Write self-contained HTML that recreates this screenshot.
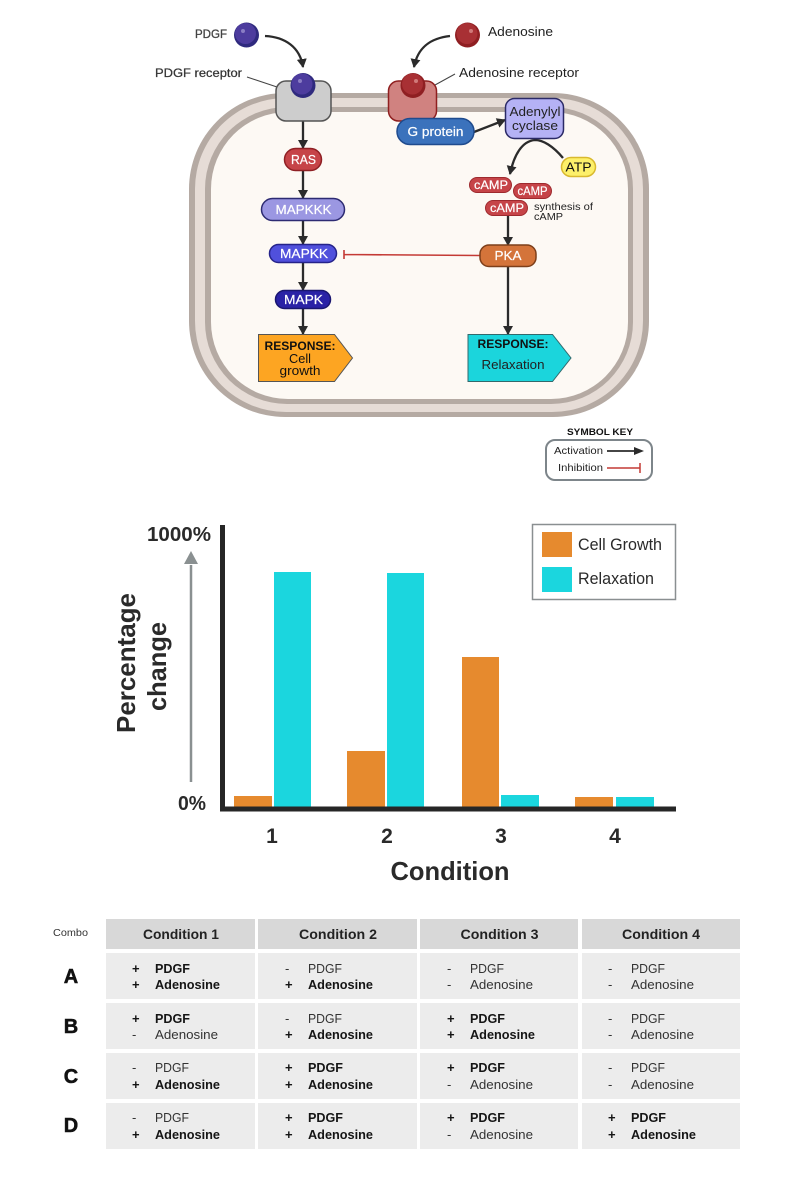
<!DOCTYPE html>
<html><head><meta charset="utf-8"><style>
html,body{margin:0;padding:0;background:#fff}
svg{display:block;filter:blur(.35px)}
text{font-family:"Liberation Sans",sans-serif}
.w{fill:#fff;stroke:#fff;stroke-width:.2;font-size:12.5px;text-anchor:middle}
.t text{font-size:13px;fill:#333}
.t .b{font-weight:bold;fill:#151515}
.h{font-size:13.5px;font-weight:bold;fill:#222;text-anchor:middle}
.r{font-size:20px;font-weight:bold;fill:#111;stroke:#111;stroke-width:.5;text-anchor:middle}
.c{fill:#ececec}
.g{fill:#d8d8d8}
</style></head><body>
<svg width="800" height="1200" viewBox="0 0 800 1200" xmlns="http://www.w3.org/2000/svg">
<defs>
<marker id="a" markerWidth="11" markerHeight="10" refX="8" refY="5" orient="auto" markerUnits="userSpaceOnUse"><path d="M0 0L9 5L0 10Z" fill="#2b2b2b"/></marker>
</defs>
<!-- cell -->
<rect x="189" y="93" width="460" height="324" rx="96" fill="#b5aaa3"/>
<rect x="195" y="98" width="448" height="314" rx="91" fill="#e6dcd6"/>
<rect x="205" y="107" width="428" height="297" rx="82" fill="#b5aaa3"/>
<rect x="211" y="112" width="417" height="287" rx="77" fill="#fdf9f4"/>
<!-- arrows -->
<g fill="none" stroke="#2b2b2b" stroke-width="2.300">
<path d="M265 36C285 37 300 47 303 67" marker-end="url(#a)"/>
<path d="M450 36C432 38 418 46 414 67" marker-end="url(#a)"/>
<path d="M303 121V148" marker-end="url(#a)"/>
<path d="M303 171V198" marker-end="url(#a)"/>
<path d="M303 221V244" marker-end="url(#a)"/>
<path d="M303 263V290" marker-end="url(#a)"/>
<path d="M303 309V334" marker-end="url(#a)"/>
<path d="M474 132L505 120" marker-end="url(#a)"/>
<path d="M563 158C553 146 543 140 535 140C522 141 514 155 510 174" marker-end="url(#a)"/>
<path d="M508 216V245" marker-end="url(#a)"/>
<path d="M508 267V334" marker-end="url(#a)"/>
</g>
<path d="M480 255.500L344 254.500M344 250V259" fill="none" stroke="#c43a35" stroke-width="1.600"/>
<path d="M247 77L277 87M435 85L455 74" stroke="#444" stroke-width="1" fill="none"/>
<!-- receptors -->
<rect x="276" y="81" width="55" height="40" rx="10" fill="#cdcdcd" stroke="#555" stroke-width="1.500"/>
<rect x="388.500" y="81" width="48" height="40" rx="10" fill="#d08280" stroke="#8f1f1f" stroke-width="1.500"/>
<!-- balls -->
<circle cx="246.500" cy="35" r="12.500" fill="#2f2a7e"/><circle cx="245.500" cy="33.500" r="10.500" fill="#4d3c9e"/><circle cx="243" cy="31" r="2" fill="#8a7dc4"/>
<circle cx="303" cy="85.500" r="12.500" fill="#2f2a7e"/><circle cx="302" cy="84" r="10.500" fill="#4d3c9e"/><circle cx="300" cy="81" r="2" fill="#8a7dc4"/>
<circle cx="467.500" cy="35" r="12.500" fill="#8f1f22"/><circle cx="467" cy="33.500" r="10.500" fill="#a83034"/><circle cx="471" cy="31" r="2" fill="#d07a7a"/>
<circle cx="413" cy="85.500" r="12.500" fill="#8f1f22"/><circle cx="412.500" cy="84" r="10.500" fill="#a83034"/><circle cx="416" cy="81" r="2" fill="#d07a7a"/>
<!-- nodes -->
<rect x="397" y="118.500" width="77" height="26" rx="13" fill="#3b72bc" stroke="#1f4b8e" stroke-width="1.500"/>
<text x="435.500" y="136" class="w" textLength="56" lengthAdjust="spacingAndGlyphs">G protein</text>
<rect x="505.500" y="98.500" width="58" height="40" rx="9" fill="#b5b2f5" stroke="#2b2a66" stroke-width="1.500"/>
<text x="535" y="116" font-size="12.500" fill="#222" text-anchor="middle" textLength="51" lengthAdjust="spacingAndGlyphs">Adenylyl</text>
<text x="535" y="130" font-size="12.500" fill="#222" text-anchor="middle" textLength="46" lengthAdjust="spacingAndGlyphs">cyclase</text>
<rect x="561.500" y="157.500" width="34" height="19" rx="9.500" fill="#fdf06a" stroke="#d9b92e" stroke-width="1.500"/>
<text x="578.500" y="171.500" font-size="13" fill="#111" text-anchor="middle" textLength="26" lengthAdjust="spacingAndGlyphs">ATP</text>
<rect x="469.500" y="177.500" width="42" height="15" rx="7.500" fill="#c64448" stroke="#9e2a2e"/>
<text x="491" y="189" class="w" style="font-size:12px" textLength="34" lengthAdjust="spacingAndGlyphs">cAMP</text>
<rect x="513.500" y="183.500" width="38" height="15" rx="7.500" fill="#c64448" stroke="#9e2a2e"/>
<text x="532.500" y="195" class="w" style="font-size:11.500px" textLength="30" lengthAdjust="spacingAndGlyphs">cAMP</text>
<rect x="485.500" y="200.500" width="42" height="15" rx="7.500" fill="#c64448" stroke="#9e2a2e"/>
<text x="507" y="212" class="w" style="font-size:12px" textLength="34" lengthAdjust="spacingAndGlyphs">cAMP</text>
<text x="534" y="210" font-size="10" fill="#222" textLength="59" lengthAdjust="spacingAndGlyphs">synthesis of</text>
<text x="534" y="220" font-size="10" fill="#222" textLength="29" lengthAdjust="spacingAndGlyphs">cAMP</text>
<rect x="480" y="245" width="56" height="21.500" rx="9" fill="#d4743a" stroke="#7d3f1a" stroke-width="1.500"/>
<text x="508" y="260" class="w" textLength="27" lengthAdjust="spacingAndGlyphs">PKA</text>
<rect x="284.500" y="148.500" width="37" height="22" rx="11" fill="#c64448" stroke="#8f2024" stroke-width="1.500"/>
<text x="303.500" y="164" class="w" textLength="25" lengthAdjust="spacingAndGlyphs">RAS</text>
<rect x="261.500" y="198.500" width="83" height="22" rx="11" fill="#9b97e2" stroke="#2d2b72" stroke-width="1.500"/>
<text x="303.500" y="214" class="w" textLength="56" lengthAdjust="spacingAndGlyphs">MAPKKK</text>
<rect x="269.500" y="244.500" width="67" height="18" rx="9" fill="#5050dc" stroke="#25238a" stroke-width="1.500"/>
<text x="304" y="258" class="w" textLength="48" lengthAdjust="spacingAndGlyphs">MAPKK</text>
<rect x="275.500" y="290.500" width="55" height="18" rx="9" fill="#2a22a6" stroke="#1a1670" stroke-width="1.500"/>
<text x="303.500" y="304" class="w" textLength="39" lengthAdjust="spacingAndGlyphs">MAPK</text>
<path d="M258.500 334.500H334.500L352.500 358L334.500 381.500H258.500Z" fill="#fda522" stroke="#555" stroke-width="1"/>
<text x="300" y="350" font-size="12" font-weight="bold" fill="#111" text-anchor="middle" textLength="71" lengthAdjust="spacingAndGlyphs">RESPONSE:</text>
<text x="300" y="363" font-size="12.500" fill="#111" text-anchor="middle" textLength="22" lengthAdjust="spacingAndGlyphs">Cell</text>
<text x="300" y="375" font-size="12.500" fill="#111" text-anchor="middle" textLength="41" lengthAdjust="spacingAndGlyphs">growth</text>
<path d="M468 334.500H552.500L571 358L552.500 381.500H468Z" fill="#1bd5dc" stroke="#33696c" stroke-width="1"/>
<text x="513" y="348" font-size="12" font-weight="bold" fill="#111" text-anchor="middle" textLength="71" lengthAdjust="spacingAndGlyphs">RESPONSE:</text>
<text x="513" y="369" font-size="12.500" fill="#222" text-anchor="middle" textLength="63" lengthAdjust="spacingAndGlyphs">Relaxation</text>
<!-- labels -->
<text x="195" y="38" font-size="12" fill="#444" stroke="#444" stroke-width=".3" textLength="32" lengthAdjust="spacingAndGlyphs">PDGF</text>
<text x="488" y="36" font-size="13" fill="#222" textLength="65" lengthAdjust="spacingAndGlyphs">Adenosine</text>
<text x="155" y="77" font-size="12" fill="#333" stroke="#333" stroke-width=".25" textLength="87" lengthAdjust="spacingAndGlyphs">PDGF receptor</text>
<text x="459" y="77" font-size="12.500" fill="#222" textLength="120" lengthAdjust="spacingAndGlyphs">Adenosine receptor</text>
<!-- key -->
<text x="567" y="435" font-size="9.500" font-weight="bold" fill="#111" textLength="66" lengthAdjust="spacingAndGlyphs">SYMBOL KEY</text>
<rect x="546" y="440" width="106" height="40" rx="9" fill="#fff" stroke="#7d858a" stroke-width="2"/>
<text x="554" y="454" font-size="10.500" fill="#222" textLength="49" lengthAdjust="spacingAndGlyphs">Activation</text>
<text x="558" y="471" font-size="10.500" fill="#222" textLength="45" lengthAdjust="spacingAndGlyphs">Inhibition</text>
<path d="M607 451H636" stroke="#2b2b2b" stroke-width="1.800"/><path d="M634 447L644 451L634 455Z" fill="#2b2b2b"/>
<path d="M607 468H640M640 463V473" stroke="#c43a35" stroke-width="1.500" fill="none"/>
<!-- chart -->
<g fill="#e68a2e">
<rect x="234" y="796" width="38" height="11"/><rect x="347" y="751" width="38" height="56"/><rect x="462" y="657" width="37" height="150"/><rect x="575" y="797" width="38" height="10"/>
<rect x="542" y="532" width="30" height="25"/>
</g>
<g fill="#1bd6de">
<rect x="274" y="572" width="37" height="235"/><rect x="387" y="573" width="37" height="234"/><rect x="501" y="795" width="38" height="12"/><rect x="616" y="797" width="38" height="10"/>
<rect x="542" y="567" width="30" height="25"/>
</g>
<path d="M222.500 525V809H676" fill="none" stroke="#262626" stroke-width="5"/>
<rect x="532.500" y="524.500" width="143" height="75" fill="none" stroke="#8a8f91" stroke-width="1.500"/>
<text x="578" y="550" font-size="16.500" fill="#2a2a2a" textLength="84" lengthAdjust="spacingAndGlyphs">Cell Growth</text>
<text x="578" y="584" font-size="16.500" fill="#2a2a2a" textLength="76" lengthAdjust="spacingAndGlyphs">Relaxation</text>
<path d="M191 782V565" stroke="#8a9091" stroke-width="2.500"/><path d="M184 564L191 551L198 564Z" fill="#8a9091"/>
<text x="147" y="541" font-size="20" font-weight="bold" fill="#2a2a2a" textLength="64" lengthAdjust="spacingAndGlyphs">1000%</text>
<text x="178" y="810" font-size="20" font-weight="bold" fill="#2a2a2a" textLength="28" lengthAdjust="spacingAndGlyphs">0%</text>
<text transform="translate(135,733) rotate(-90)" font-size="26" font-weight="bold" fill="#2a2a2a" textLength="140" lengthAdjust="spacingAndGlyphs">Percentage</text>
<text transform="translate(166,711) rotate(-90)" font-size="26" font-weight="bold" fill="#2a2a2a" textLength="89" lengthAdjust="spacingAndGlyphs">change</text>
<g font-size="21" font-weight="bold" fill="#2a2a2a" text-anchor="middle">
<text x="272" y="843">1</text><text x="387" y="843">2</text><text x="501" y="843">3</text><text x="615" y="843">4</text>
</g>
<text x="450" y="880" font-size="26" font-weight="bold" fill="#2a2a2a" text-anchor="middle" textLength="119" lengthAdjust="spacingAndGlyphs">Condition</text>
<!-- table -->
<rect class="g" x="106" y="919" width="149" height="30"/><rect class="g" x="258" y="919" width="159" height="30"/><rect class="g" x="420" y="919" width="158" height="30"/><rect class="g" x="582" y="919" width="158" height="30"/>
<rect class="c" x="106" y="953" width="149" height="46"/><rect class="c" x="258" y="953" width="159" height="46"/><rect class="c" x="420" y="953" width="158" height="46"/><rect class="c" x="582" y="953" width="158" height="46"/>
<rect class="c" x="106" y="1003" width="149" height="46"/><rect class="c" x="258" y="1003" width="159" height="46"/><rect class="c" x="420" y="1003" width="158" height="46"/><rect class="c" x="582" y="1003" width="158" height="46"/>
<rect class="c" x="106" y="1053" width="149" height="46"/><rect class="c" x="258" y="1053" width="159" height="46"/><rect class="c" x="420" y="1053" width="158" height="46"/><rect class="c" x="582" y="1053" width="158" height="46"/>
<rect class="c" x="106" y="1103" width="149" height="46"/><rect class="c" x="258" y="1103" width="159" height="46"/><rect class="c" x="420" y="1103" width="158" height="46"/><rect class="c" x="582" y="1103" width="158" height="46"/>
<text x="53" y="936" font-size="10.500" fill="#333" textLength="35" lengthAdjust="spacingAndGlyphs">Combo</text>
<text class="h" x="181" y="939" textLength="76" lengthAdjust="spacingAndGlyphs">Condition 1</text><text class="h" x="338" y="939" textLength="78" lengthAdjust="spacingAndGlyphs">Condition 2</text><text class="h" x="499.500" y="939" textLength="78" lengthAdjust="spacingAndGlyphs">Condition 3</text><text class="h" x="661" y="939" textLength="78" lengthAdjust="spacingAndGlyphs">Condition 4</text>
<text class="r" x="71" y="983">A</text><text class="r" x="71" y="1033">B</text><text class="r" x="71" y="1083">C</text><text class="r" x="71" y="1132">D</text>
<g class="t">
<text class="b" x="132" y="973">+</text><text class="b" x="155" y="973" textLength="35" lengthAdjust="spacingAndGlyphs">PDGF</text><text class="b" x="132" y="989">+</text><text class="b" x="155" y="989" textLength="65" lengthAdjust="spacingAndGlyphs">Adenosine</text>
<text x="285" y="973">-</text><text x="308" y="973" textLength="34" lengthAdjust="spacingAndGlyphs">PDGF</text><text class="b" x="285" y="989">+</text><text class="b" x="308" y="989" textLength="65" lengthAdjust="spacingAndGlyphs">Adenosine</text>
<text x="447" y="973">-</text><text x="470" y="973" textLength="34" lengthAdjust="spacingAndGlyphs">PDGF</text><text x="447" y="989">-</text><text x="470" y="989" textLength="63" lengthAdjust="spacingAndGlyphs">Adenosine</text>
<text x="608" y="973">-</text><text x="631" y="973" textLength="34" lengthAdjust="spacingAndGlyphs">PDGF</text><text x="608" y="989">-</text><text x="631" y="989" textLength="63" lengthAdjust="spacingAndGlyphs">Adenosine</text>

<text class="b" x="132" y="1023">+</text><text class="b" x="155" y="1023" textLength="35" lengthAdjust="spacingAndGlyphs">PDGF</text><text x="132" y="1039">-</text><text x="155" y="1039" textLength="63" lengthAdjust="spacingAndGlyphs">Adenosine</text>
<text x="285" y="1023">-</text><text x="308" y="1023" textLength="34" lengthAdjust="spacingAndGlyphs">PDGF</text><text class="b" x="285" y="1039">+</text><text class="b" x="308" y="1039" textLength="65" lengthAdjust="spacingAndGlyphs">Adenosine</text>
<text class="b" x="447" y="1023">+</text><text class="b" x="470" y="1023" textLength="35" lengthAdjust="spacingAndGlyphs">PDGF</text><text class="b" x="447" y="1039">+</text><text class="b" x="470" y="1039" textLength="65" lengthAdjust="spacingAndGlyphs">Adenosine</text>
<text x="608" y="1023">-</text><text x="631" y="1023" textLength="34" lengthAdjust="spacingAndGlyphs">PDGF</text><text x="608" y="1039">-</text><text x="631" y="1039" textLength="63" lengthAdjust="spacingAndGlyphs">Adenosine</text>

<text x="132" y="1072">-</text><text x="155" y="1072" textLength="34" lengthAdjust="spacingAndGlyphs">PDGF</text><text class="b" x="132" y="1089">+</text><text class="b" x="155" y="1089" textLength="65" lengthAdjust="spacingAndGlyphs">Adenosine</text>
<text class="b" x="285" y="1072">+</text><text class="b" x="308" y="1072" textLength="35" lengthAdjust="spacingAndGlyphs">PDGF</text><text class="b" x="285" y="1089">+</text><text class="b" x="308" y="1089" textLength="65" lengthAdjust="spacingAndGlyphs">Adenosine</text>
<text class="b" x="447" y="1072">+</text><text class="b" x="470" y="1072" textLength="35" lengthAdjust="spacingAndGlyphs">PDGF</text><text x="447" y="1089">-</text><text x="470" y="1089" textLength="63" lengthAdjust="spacingAndGlyphs">Adenosine</text>
<text x="608" y="1072">-</text><text x="631" y="1072" textLength="34" lengthAdjust="spacingAndGlyphs">PDGF</text><text x="608" y="1089">-</text><text x="631" y="1089" textLength="63" lengthAdjust="spacingAndGlyphs">Adenosine</text>

<text x="132" y="1122">-</text><text x="155" y="1122" textLength="34" lengthAdjust="spacingAndGlyphs">PDGF</text><text class="b" x="132" y="1139">+</text><text class="b" x="155" y="1139" textLength="65" lengthAdjust="spacingAndGlyphs">Adenosine</text>
<text class="b" x="285" y="1122">+</text><text class="b" x="308" y="1122" textLength="35" lengthAdjust="spacingAndGlyphs">PDGF</text><text class="b" x="285" y="1139">+</text><text class="b" x="308" y="1139" textLength="65" lengthAdjust="spacingAndGlyphs">Adenosine</text>
<text class="b" x="447" y="1122">+</text><text class="b" x="470" y="1122" textLength="35" lengthAdjust="spacingAndGlyphs">PDGF</text><text x="447" y="1139">-</text><text x="470" y="1139" textLength="63" lengthAdjust="spacingAndGlyphs">Adenosine</text>
<text class="b" x="608" y="1122">+</text><text class="b" x="631" y="1122" textLength="35" lengthAdjust="spacingAndGlyphs">PDGF</text><text class="b" x="608" y="1139">+</text><text class="b" x="631" y="1139" textLength="65" lengthAdjust="spacingAndGlyphs">Adenosine</text>
</g>
</svg>
</body></html>
